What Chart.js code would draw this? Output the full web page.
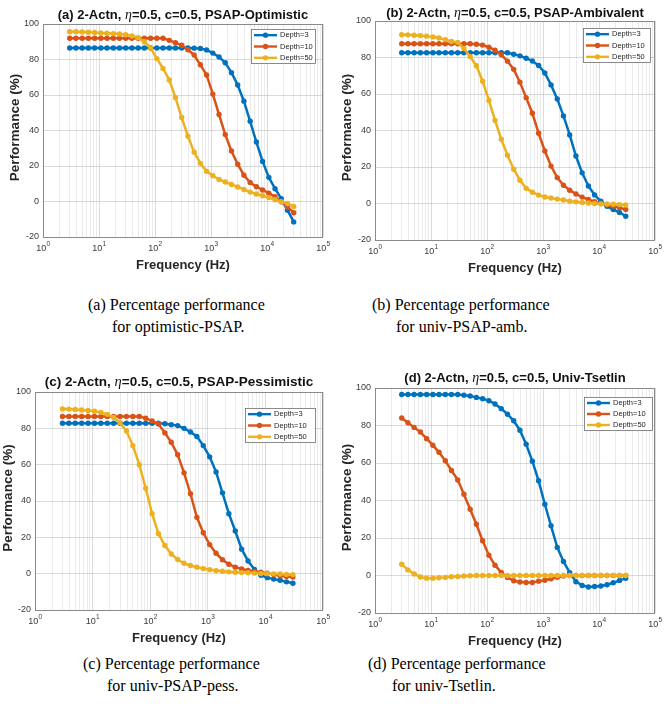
<!DOCTYPE html>
<html>
<head>
<meta charset="utf-8">
<script src="https://cdn.jsdelivr.net/npm/chart.js@4/dist/chart.umd.min.js"></script>
<style>
  html, body { margin: 0; padding: 0; background: #fff; }
  body { width: 664px; height: 706px; position: relative; overflow: hidden; }
  .panel { position: absolute; width: 332px; height: 290px; }
  .cap { position: absolute; font-family: "Liberation Serif", "Times New Roman", serif;
         font-size: 16px; line-height: 16px; color: #000; white-space: nowrap; }
</style>
</head>
<body>
<div class="panel" style="left:0;top:0"><canvas id="chartA" width="332" height="290"></canvas></div>
<div class="panel" style="left:332px;top:0"><canvas id="chartB" width="332" height="290"></canvas></div>
<div class="panel" style="left:0;top:360px"><canvas id="chartC" width="332" height="290"></canvas></div>
<div class="panel" style="left:332px;top:360px"><canvas id="chartD" width="332" height="290"></canvas></div>

<div class="cap" style="left:88px;top:297px">(a) Percentage performance</div>
<div class="cap" style="left:112px;top:319px">for optimistic-PSAP.</div>
<div class="cap" style="left:372px;top:297px">(b) Percentage performance</div>
<div class="cap" style="left:396px;top:319px">for univ-PSAP-amb.</div>
<div class="cap" style="left:83px;top:656px">(c) Percentage performance</div>
<div class="cap" style="left:107px;top:678px">for univ-PSAP-pess.</div>
<div class="cap" style="left:368px;top:656px">(d) Percentage performance</div>
<div class="cap" style="left:392px;top:678px">for univ-Tsetlin.</div>

<script>
// Sweep frequencies (Hz), shared by every panel
const freqHz = [3, 3.87, 5.00, 6.46, 8.35, 10.8, 13.9, 18.0, 23.2, 30.0,
  38.7, 50.0, 64.6, 83.5, 108, 139, 180, 232, 300, 387,
  500, 646, 835, 1078, 1392, 1797, 2321, 2998, 3872, 5000,
  6463, 8347, 10780, 13920, 17980, 23230, 30000];

const seriesLabels = ['Depth=3', 'Depth=10', 'Depth=50'];

// (a) PSAP-Optimistic
const optDepth3 = [86.5, 86.5, 86.5, 86.5, 86.5, 86.5, 86.5, 86.5, 86.5, 86.5,
  86.5, 86.5, 86.5, 86.5, 86.5, 86.5, 86.5, 86.5, 86.5, 86.5,
  86.4, 86.2, 85.4, 83.6, 81.4, 78.2, 72.6, 65.6, 56.5, 45.2,
  33.5, 22.6, 13.6, 7.2, 1.6, -4.9, -11.5];
const optDepth10 = [92, 92, 92, 92, 92, 92, 92, 92, 92, 92,
  92, 92, 92, 92, 92, 92, 90.8, 89.5, 88, 85.5,
  82.5, 77, 71.3, 60.5, 49, 37.7, 28.5, 21, 14.8, 10.7,
  8.3, 6.5, 4.7, 2.7, -0.2, -3.1, -6.3];
const optDepth50 = [95.6, 95.6, 95.5, 95.4, 95.2, 95, 94.8, 94.6, 94.4, 94,
  93.2, 92.3, 90, 86.5, 80.5, 75, 68.5, 58.5, 47.3, 36.8,
  27.8, 21.5, 17, 14.5, 12.4, 11, 9.6, 8.2, 6.8, 5.3,
  4.2, 3.2, 2.2, 1, -0.1, -1.1, -2.8];

// (b) PSAP-Ambivalent
const ambDepth3 = [82.6, 82.6, 82.6, 82.6, 82.6, 82.6, 82.6, 82.6, 82.6, 82.6,
  82.6, 82.6, 82.6, 82.6, 82.6, 82.6, 82.6, 82.6, 81.8, 80.9,
  79.6, 78.1, 75.6, 71.5, 65, 57.3, 48, 37.6, 26, 16.8,
  9.6, 4.7, 1.2, -1.5, -3.3, -4.9, -7];
const ambDepth10 = [87.5, 87.5, 87.5, 87.5, 87.5, 87.5, 87.5, 87.5, 87.5, 87.5,
  87.5, 87.5, 87.3, 86.8, 85.6, 84, 81.5, 78, 73.5, 66.5,
  58, 49.5, 38.5, 28.8, 20.5, 14.2, 10, 7.3, 5.2, 3.5,
  2.2, 1, 0, -0.7, -1.4, -2.3, -3.3];
const ambDepth50 = [92.5, 92.4, 92.2, 92, 91.7, 91.3, 90.7, 89.8, 88.8, 88.3,
  85, 80.5, 75.5, 67, 56.5, 45.5, 35.2, 26.5, 18.8, 12.8,
  8.3, 6.2, 4.6, 3.6, 3, 2.4, 1.9, 1.3, 0.9, 0.6,
  0.3, 0, -0.2, -0.3, -0.4, -0.6, -0.8];

// (c) PSAP-Pessimistic
const pessDepth3 = [82.8, 82.8, 82.8, 82.8, 82.8, 82.8, 82.8, 82.8, 82.8, 82.8,
  82.8, 82.8, 82.8, 82.8, 82.8, 82.8, 82.5, 82, 81.5, 80,
  78, 75.5, 70.5, 64.3, 56, 44.5, 33, 23.5, 13.5, 7,
  2.3, -0.9, -2.2, -3, -3.6, -4.5, -5.3];
const pessDepth10 = [86.5, 86.5, 86.5, 86.5, 86.5, 86.5, 86.5, 86.5, 86.5, 86.5,
  86.5, 86.5, 86.5, 85.6, 84, 82.4, 77.5, 72.3, 65.5, 55.5,
  44, 31, 22.5, 16, 11.2, 7.7, 5.2, 3.6, 2.6, 1.8,
  1.2, 0.8, 0.3, -0.5, -1.2, -1.6, -1.9];
const pessDepth50 = [90.7, 90.6, 90.4, 90.1, 89.8, 89.4, 88.8, 87.7, 86, 83,
  78.5, 70.5, 60, 47, 33, 22, 15.5, 10.8, 7.8, 5.7,
  4.5, 3.6, 2.8, 2.2, 1.7, 1.3, 1, 0.8, 0.6, 0.5,
  0.3, 0.1, 0, -0.1, -0.2, -0.4, -0.5];

// (d) Univ-Tsetlin
const tsDepth3 = [96.5, 96.5, 96.5, 96.5, 96.5, 96.5, 96.5, 96.5, 96.5, 96.5,
  96.2, 95.7, 95, 94.3, 93.2, 91.5, 89, 86, 82.5, 77.5,
  70, 61, 50.5, 38, 26.5, 15, 7.5, 1.5, -3.3, -5.3,
  -6.1, -5.9, -5.6, -4.9, -3.9, -2.6, -1.5];
const tsDepth10 = [84, 81.5, 79, 76.5, 73, 69.5, 65.7, 61.2, 56, 51,
  43.3, 35.3, 27.3, 18.5, 10.8, 5.5, 1.6, -1, -2.8, -3.5,
  -3.7, -3.7, -3, -2.5, -1.7, -0.9, -0.3, 0, 0, 0,
  0, 0, 0, 0, 0, 0, 0];
const tsDepth50 = [6, 3, 0.8, -0.8, -1.4, -1.4, -1.2, -1, -0.7, -0.5,
  -0.3, -0.1, 0, 0, 0, 0, 0, 0, 0, 0,
  0, 0, 0, 0, 0, 0, 0, 0, 0, 0,
  0, 0, 0, 0, 0, 0, 0];

// Axis ticks
const xTickExponents = [0, 1, 2, 3, 4, 5];
const yTickValues = [-20, 0, 20, 40, 60, 80, 100];
const xAxisTitle = 'Frequency (Hz)';
const yAxisTitle = 'Performance (%)';

const lineColors = ['#0072BD', '#D95319', '#EDB120'];
const SANS = '"Liberation Sans", Arial, Helvetica, sans-serif';
const SERIF = '"Liberation Serif", "Times New Roman", serif';
Chart.defaults.font.family = SANS;

// log grid: 1..9 x 10^e inside the axis range
const xGridValues = [];
for (let e = 0; e < 5; e++) for (let m = 1; m < 10; m++) xGridValues.push(m * Math.pow(10, e));
xGridValues.push(1e5);
const isDecade = v => Math.abs(Math.log10(v) - Math.round(Math.log10(v))) < 1e-9;

const panels = [
  { id: 'chartA', head: '(a) 2-Actn, ', tail: '=0.5, c=0.5, PSAP-Optimistic',
    data: [optDepth3, optDepth10, optDepth50],
    area: { l: 43, r: 323, t: 24, b: 237 }, titleY: 15, titleSize: 13, yTitleX: 15,
    legend: { x: 251, y: 29, w: 64, h: 34 } },
  { id: 'chartB', head: '(b) 2-Actn, ', tail: '=0.5, c=0.5, PSAP-Ambivalent',
    data: [ambDepth3, ambDepth10, ambDepth50],
    area: { l: 43, r: 323, t: 21, b: 240 }, titleY: 13.5, titleSize: 13, yTitleX: 15,
    legend: { x: 251, y: 28, w: 67, h: 34 } },
  { id: 'chartC', head: '(c) 2-Actn, ', tail: '=0.5, c=0.5, PSAP-Pessimistic',
    data: [pessDepth3, pessDepth10, pessDepth50],
    area: { l: 35, r: 323, t: 32, b: 250 }, titleY: 22.5, titleSize: 13.5, yTitleX: 8.5,
    legend: { x: 245, y: 48, w: 70, h: 34 } },
  { id: 'chartD', head: '(d) 2-Actn, ', tail: '=0.5, c=0.5, Univ-Tsetlin',
    data: [tsDepth3, tsDepth10, tsDepth50],
    area: { l: 43, r: 323, t: 28, b: 253 }, titleY: 18.5, titleSize: 13, yTitleX: 15,
    legend: { x: 252, y: 37, w: 68, h: 33 } }
];

// Title, axis box, x labels with exponents, axis titles and the in-plot legend
const decorations = {
  id: 'decorations',
  afterDraw(chart, args, opts) {
    const p = opts.panel;
    const { ctx, chartArea: a, scales: { x } } = chart;
    ctx.save();

    // axes box
    ctx.strokeStyle = '#8a8a8a';
    ctx.lineWidth = 1;
    ctx.strokeRect(Math.round(a.left) + 0.5, Math.round(a.top) + 0.5,
      Math.round(a.right - a.left) - 1, Math.round(a.bottom - a.top));

    // title with italic eta
    const cx = (a.left + a.right) / 2;
    const fonts = [`bold ${p.titleSize}px ${SANS}`, `italic ${p.titleSize + 1}px ${SERIF}`, `bold ${p.titleSize}px ${SANS}`];
    const parts = [p.head, 'η', p.tail];
    const widths = parts.map((t, i) => { ctx.font = fonts[i]; return ctx.measureText(t).width; });
    let tx = cx - widths.reduce((s, w) => s + w, 0) / 2;
    ctx.fillStyle = '#111';
    ctx.textBaseline = 'middle';
    ctx.textAlign = 'left';
    parts.forEach((t, i) => { ctx.font = fonts[i]; ctx.fillText(t, tx, p.titleY); tx += widths[i]; });

    // x tick labels 10^e
    ctx.fillStyle = '#3a3a3a';
    xTickExponents.forEach(e => {
      const px = x.getPixelForValue(Math.pow(10, e));
      ctx.font = `9px ${SANS}`;
      const w1 = ctx.measureText('10').width;
      ctx.font = `6.5px ${SANS}`;
      const w2 = ctx.measureText(String(e)).width;
      const x0 = px - (w1 + w2) / 2;
      ctx.font = `9px ${SANS}`;
      ctx.fillText('10', x0, a.bottom + 12);
      ctx.font = `6.5px ${SANS}`;
      ctx.fillText(String(e), x0 + w1 + 0.3, a.bottom + 7.5);
    });

    // axis titles
    ctx.fillStyle = '#262626';
    ctx.textAlign = 'center';
    ctx.font = `bold 13px ${SANS}`;
    ctx.fillText(xAxisTitle, cx, a.bottom + 28);
    ctx.save();
    ctx.translate(p.yTitleX, (a.top + a.bottom) / 2 - 3);
    ctx.rotate(-Math.PI / 2);
    ctx.font = `bold 13.5px ${SANS}`;
    ctx.fillText(yAxisTitle, 0, 0);
    ctx.restore();

    // legend
    const L = p.legend;
    ctx.fillStyle = '#fff';
    ctx.fillRect(L.x, L.y, L.w, L.h);
    ctx.strokeStyle = '#6e6e6e';
    ctx.lineWidth = 0.8;
    ctx.strokeRect(L.x + 0.5, L.y + 0.5, L.w, L.h);
    const rowH = L.h / 3;
    chart.data.datasets.forEach((ds, i) => {
      const ey = L.y + rowH * (i + 0.5) + 0.5;
      const x1 = L.x + 3, x2 = L.x + 26;
      ctx.strokeStyle = ds.borderColor;
      ctx.lineWidth = 2.4;
      ctx.beginPath(); ctx.moveTo(x1, ey); ctx.lineTo(x2, ey); ctx.stroke();
      ctx.fillStyle = ds.borderColor;
      ctx.beginPath(); ctx.arc((x1 + x2) / 2, ey, 2.7, 0, Math.PI * 2); ctx.fill();
      ctx.fillStyle = '#262626';
      ctx.textAlign = 'left';
      ctx.font = `7.5px ${SANS}`;
      ctx.fillText(ds.label, L.x + 29, ey);
    });
    ctx.restore();
  }
};

panels.forEach(p => {
  const W = 332, H = 290;
  new Chart(document.getElementById(p.id), {
    type: 'line',
    data: {
      datasets: p.data.map((vals, i) => ({
        label: seriesLabels[i],
        data: freqHz.map((f, k) => ({ x: f, y: vals[k] })),
        borderColor: lineColors[i],
        backgroundColor: lineColors[i],
        pointBackgroundColor: lineColors[i],
        pointBorderColor: lineColors[i],
        borderWidth: 2.5,
        pointRadius: 2.7,
        pointBorderWidth: 0,
        tension: 0,
        fill: false,
        order: 2 - i
      }))
    },
    options: {
      responsive: false,
      animation: false,
      devicePixelRatio: 1,
      layout: { padding: { top: p.area.t, right: W - p.area.r, left: 0, bottom: 0 } },
      plugins: {
        legend: { display: false },
        tooltip: { enabled: false },
        title: { display: false },
        decorations: { panel: p }
      },
      scales: {
        x: {
          type: 'logarithmic',
          min: 1, max: 1e5,
          afterBuildTicks(s) { s.ticks = xGridValues.map(v => ({ value: v, major: isDecade(v) })); },
          afterFit(s) { s.height = H - p.area.b; },
          ticks: { display: false, autoSkip: false },
          grid: {
            drawTicks: false,
            lineWidth: 1,
            color: c => (c.tick && isDecade(c.tick.value)) ? 'rgba(0,0,0,0.14)' : 'rgba(0,0,0,0.08)'
          },
          border: { display: false }
        },
        y: {
          min: -20, max: 100,
          afterBuildTicks(s) { s.ticks = yTickValues.map(v => ({ value: v })); },
          afterFit(s) { s.width = p.area.l; },
          ticks: { color: '#3a3a3a', font: { size: 9 }, padding: 4 },
          grid: { drawTicks: false, lineWidth: 1, color: 'rgba(0,0,0,0.14)' },
          border: { display: false }
        }
      }
    },
    plugins: [decorations]
  });
});
</script>
</body>
</html>
